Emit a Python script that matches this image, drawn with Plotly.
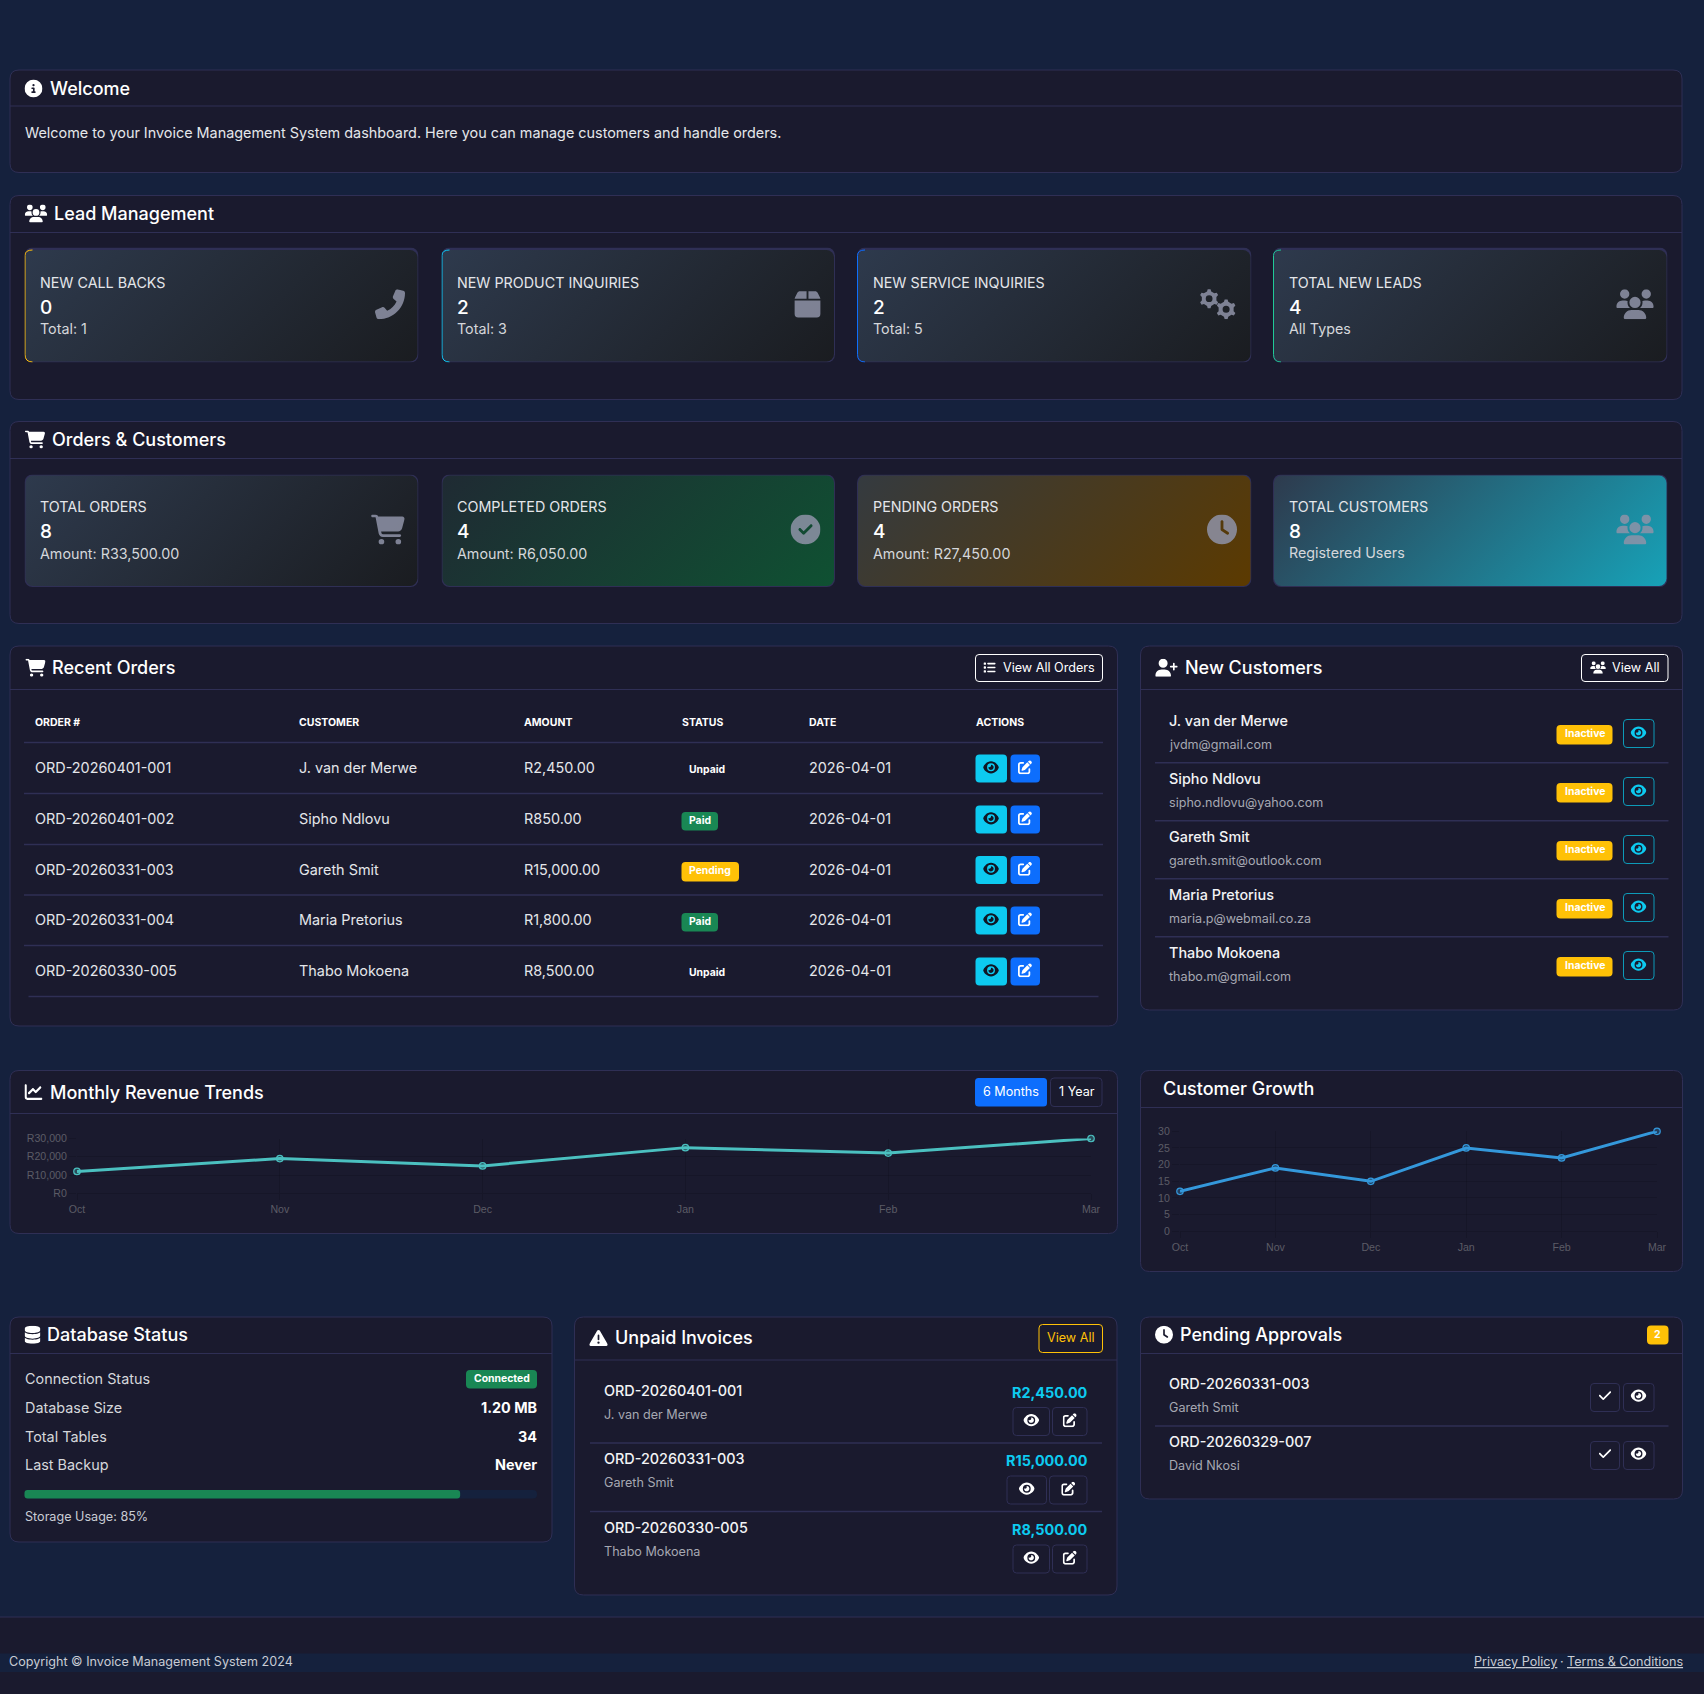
"""Invoice Management System dashboard drawn as a single plotly figure."""
import base64
import math

import plotly.graph_objects as go

W = 1704
H = 1694

# ---- data ----
MONTHS = ['Oct', 'Nov', 'Dec', 'Jan', 'Feb', 'Mar']
REVENUE = [12000, 19000, 15000, 25000, 22000, 30000]
REVENUE_TICKS = [0, 10000, 20000, 30000]
REVENUE_TICK_LABELS = ['R0', 'R10,000', 'R20,000', 'R30,000']
CUSTOMER_GROWTH = [12, 19, 15, 25, 22, 30]
CUSTOMER_TICKS = [0, 5, 10, 15, 20, 25, 30]

LEAD_TITLES = ['NEW CALL BACKS', 'NEW PRODUCT INQUIRIES', 'NEW SERVICE INQUIRIES', 'TOTAL NEW LEADS']
LEAD_VALUES = ['0', '2', '2', '4']
LEAD_NOTES = ['Total: 1', 'Total: 3', 'Total: 5', 'All Types']

ORDER_TITLES = ['TOTAL ORDERS', 'COMPLETED ORDERS', 'PENDING ORDERS', 'TOTAL CUSTOMERS']
ORDER_VALUES = ['8', '4', '4', '8']
ORDER_NOTES = ['Amount: R33,500.00', 'Amount: R6,050.00', 'Amount: R27,450.00', 'Registered Users']

TABLE_HEADERS = ['ORDER #', 'CUSTOMER', 'AMOUNT', 'STATUS', 'DATE', 'ACTIONS']
ORDER_IDS = ['ORD-20260401-001', 'ORD-20260401-002', 'ORD-20260331-003', 'ORD-20260331-004', 'ORD-20260330-005']
ORDER_CUSTOMERS = ['J. van der Merwe', 'Sipho Ndlovu', 'Gareth Smit', 'Maria Pretorius', 'Thabo Mokoena']
ORDER_AMOUNTS = ['R2,450.00', 'R850.00', 'R15,000.00', 'R1,800.00', 'R8,500.00']
ORDER_STATUS = ['Unpaid', 'Paid', 'Pending', 'Paid', 'Unpaid']
ORDER_DATES = ['2026-04-01'] * 5

NEW_NAMES = ['J. van der Merwe', 'Sipho Ndlovu', 'Gareth Smit', 'Maria Pretorius', 'Thabo Mokoena']
NEW_EMAILS = ['jvdm@gmail.com', 'sipho.ndlovu@yahoo.com', 'gareth.smit@outlook.com',
              'maria.p@webmail.co.za', 'thabo.m@gmail.com']

DB_LABELS = ['Connection Status', 'Database Size', 'Total Tables', 'Last Backup']
DB_VALUES = ['Connected', '1.20 MB', '34', 'Never']
STORAGE_USED = 85

UNPAID_IDS = ['ORD-20260401-001', 'ORD-20260331-003', 'ORD-20260330-005']
UNPAID_NAMES = ['J. van der Merwe', 'Gareth Smit', 'Thabo Mokoena']
UNPAID_AMOUNTS = ['R2,450.00', 'R15,000.00', 'R8,500.00']

PENDING_IDS = ['ORD-20260331-003', 'ORD-20260329-007']
PENDING_NAMES = ['Gareth Smit', 'David Nkosi']

# ---- colours ----
PAGE = '#15213d'
CARD = '#1a1a2e'
EDGE = '#2f2f55'
MUTED = '#a6a8b2'
SOFT = '#e4e6ea'
GREEN = '#198754'
AMBER = '#ffc107'
CYAN = '#0dcaf0'
BLUE = '#0d6efd'
FONT = 'Inter'
BODY = 14.4
SMALL = 12.6

# ---- icon outlines (font-awesome style glyphs) ----
ICON_INFO = (512, 512, 'M256 512A256 256 0 1 0 256 0a256 256 0 1 0 0 512zM216 336h24V272H216c-13.3 0-24-10.7-24-24s10.7-24 24-24h48c13.3 0 24 10.7 24 24v88h8c13.3 0 24 10.7 24 24s-10.7 24-24 24H216c-13.3 0-24-10.7-24-24s10.7-24 24-24zm40-208a32 32 0 1 1 0 64 32 32 0 1 1 0-64z')
ICON_USERS = (640, 512, 'M144 0a80 80 0 1 1 0 160A80 80 0 1 1 144 0zM512 0a80 80 0 1 1 0 160A80 80 0 1 1 512 0zM0 298.7C0 239.8 47.8 192 106.7 192h42.7c15.9 0 31 3.5 44.6 9.7c-1.3 7.2-1.9 14.7-1.9 22.3c0 38.2 16.8 72.5 43.3 96c-.2 0-.4 0-.7 0H21.3C9.6 320 0 310.4 0 298.7zM405.3 320c-.2 0-.4 0-.7 0c26.6-23.5 43.3-57.8 43.3-96c0-7.6-.7-15-1.9-22.3c13.6-6.3 28.7-9.7 44.6-9.7h42.7C592.2 192 640 239.8 640 298.7c0 11.8-9.6 21.3-21.3 21.3H405.3zM224 224a96 96 0 1 1 192 0 96 96 0 1 1 -192 0zM128 485.3C128 411.7 187.7 352 261.3 352H378.7C452.3 352 512 411.7 512 485.3c0 14.7-11.9 26.7-26.7 26.7H154.7c-14.7 0-26.7-11.9-26.7-26.7z')
ICON_PHONE = (512, 512, 'M347.1 24.6c7.7-18.6 28-28.5 47.4-23.2l88 24C499.9 30.2 512 46 512 64c0 247.4-200.6 448-448 448c-18 0-33.8-12.1-38.6-29.5l-24-88c-5.3-19.4 4.6-39.7 23.2-47.4l96-40c16.3-6.8 35.2-2.1 46.3 11.6L207.3 368c70.4-33.3 127.4-90.3 160.7-160.7L318.7 167c-13.7-11.2-18.4-30-11.6-46.3l40-96z')
ICON_BOX = (448, 512, 'M50.7 58.5L0 160H208V32H93.7C75.5 32 58.9 42.3 50.7 58.5zM240 160H448L397.3 58.5C389.1 42.3 372.5 32 354.3 32H240V160zm208 32H0V416c0 35.3 28.7 64 64 64H384c35.3 0 64-28.7 64-64V192z')
ICON_CART = (576, 512, 'M0 24C0 10.7 10.7 0 24 0H69.5c22 0 41.5 12.8 50.6 32h411c26.3 0 45.5 25 38.6 50.4l-41 152.3c-8.5 31.4-37 53.3-69.5 53.3H170.7l5.4 28.5c2.2 11.3 12.1 19.5 23.6 19.5H488c13.3 0 24 10.7 24 24s-10.7 24-24 24H199.7c-34.6 0-64.3-24.6-70.7-58.5L77.4 54.5c-.7-3.8-4-6.5-7.9-6.5H24C10.7 48 0 37.3 0 24zM128 464a48 48 0 1 1 96 0 48 48 0 1 1 -96 0zm336-48a48 48 0 1 1 0 96 48 48 0 1 1 0-96z')
ICON_CHECK_CIRCLE = (512, 512, 'M256 512A256 256 0 1 0 256 0a256 256 0 1 0 0 512zM369 209L241 337c-9.4 9.4-24.6 9.4-33.9 0l-64-64c-9.4-9.4-9.4-24.6 0-33.9s24.6-9.4 33.9 0l47 47L335 175c9.4-9.4 24.6-9.4 33.9 0s9.4 24.6 0 33.9z')
ICON_CLOCK = (512, 512, 'M256 0a256 256 0 1 1 0 512A256 256 0 1 1 256 0zM232 120V256c0 8 4 15.5 10.7 20l96 64c11 7.4 25.9 4.4 33.3-6.7s4.4-25.9-6.7-33.3L280 243.2V120c0-13.3-10.7-24-24-24s-24 10.7-24 24z')
ICON_LIST = (512, 512, 'M40 48C26.7 48 16 58.7 16 72v48c0 13.3 10.7 24 24 24H88c13.3 0 24-10.7 24-24V72c0-13.3-10.7-24-24-24H40zM192 64c-17.7 0-32 14.3-32 32s14.3 32 32 32H480c17.7 0 32-14.3 32-32s-14.3-32-32-32H192zm0 160c-17.7 0-32 14.3-32 32s14.3 32 32 32H480c17.7 0 32-14.3 32-32s-14.3-32-32-32H192zm0 160c-17.7 0-32 14.3-32 32s14.3 32 32 32H480c17.7 0 32-14.3 32-32s-14.3-32-32-32H192zM16 232v48c0 13.3 10.7 24 24 24H88c13.3 0 24-10.7 24-24V232c0-13.3-10.7-24-24-24H40c-13.3 0-24 10.7-24 24zM40 368c-13.3 0-24 10.7-24 24v48c0 13.3 10.7 24 24 24H88c13.3 0 24-10.7 24-24V392c0-13.3-10.7-24-24-24H40z')
ICON_USER_PLUS = (640, 512, 'M96 128a128 128 0 1 1 256 0A128 128 0 1 1 96 128zM0 482.3C0 383.8 79.8 304 178.3 304h91.4C368.2 304 448 383.8 448 482.3c0 16.4-13.3 29.7-29.7 29.7H29.7C13.3 512 0 498.7 0 482.3zM504 312V248H440c-13.3 0-24-10.7-24-24s10.7-24 24-24h64V136c0-13.3 10.7-24 24-24s24 10.7 24 24v64h64c13.3 0 24 10.7 24 24s-10.7 24-24 24H552v64c0 13.3-10.7 24-24 24s-24-10.7-24-24z')
ICON_EYE = (576, 512, 'M288 32c-80.8 0-145.5 36.8-192.6 80.6C48.6 156 17.3 208 2.5 243.7c-3.3 7.9-3.3 16.7 0 24.6C17.3 304 48.6 356 95.4 399.4C142.5 443.2 207.2 480 288 480s145.5-36.8 192.6-80.6c46.8-43.5 78.1-95.4 93-131.1c3.3-7.9 3.3-16.7 0-24.6c-14.9-35.7-46.2-87.7-93-131.1C433.5 68.8 368.8 32 288 32zM144 256a144 144 0 1 1 288 0 144 144 0 1 1 -288 0zm144-64c0 35.3-28.7 64-64 64c-7.1 0-13.9-1.2-20.3-3.3c-5.5-1.8-11.9 1.6-11.7 7.4c.3 6.9 1.3 13.8 3.2 20.7c13.7 51.2 66.4 81.6 117.6 67.9s81.6-66.4 67.9-117.6c-11.1-41.5-47.8-69.4-88.6-71.1c-5.8-.2-9.2 6.1-7.4 11.7c2.1 6.4 3.3 13.2 3.3 20.3z')
ICON_EDIT = (512, 512, 'M471.6 21.7c-21.9-21.9-57.3-21.9-79.2 0L362.3 51.7l97.9 97.9 30.1-30.1c21.9-21.9 21.9-57.3 0-79.2L471.6 21.7zm-299.2 220c-6.1 6.1-10.8 13.6-13.5 21.9l-29.6 88.8c-2.9 8.6-.6 18.1 5.8 24.6s15.9 8.7 24.6 5.8l88.8-29.6c8.2-2.7 15.7-7.4 21.9-13.5L437.7 172.3 339.7 74.3 172.4 241.7zM96 64C43 64 0 107 0 160V416c0 53 43 96 96 96H352c53 0 96-43 96-96V320c0-17.7-14.3-32-32-32s-32 14.3-32 32v96c0 17.7-14.3 32-32 32H96c-17.7 0-32-14.3-32-32V160c0-17.7 14.3-32 32-32h96c17.7 0 32-14.3 32-32s-14.3-32-32-32H96z')
ICON_CHART = (512, 512, 'M64 64c0-17.7-14.3-32-32-32S0 46.3 0 64V400c0 44.2 35.8 80 80 80H480c17.7 0 32-14.3 32-32s-14.3-32-32-32H80c-8.8 0-16-7.2-16-16V64zm406.6 86.6c12.5-12.5 12.5-32.8 0-45.3s-32.8-12.5-45.3 0L320 210.7l-57.4-57.4c-12.5-12.5-32.8-12.5-45.3 0l-112 112c-12.5 12.5-12.5 32.8 0 45.3s32.8 12.5 45.3 0L240 221.3l57.4 57.4c12.5 12.5 32.8 12.5 45.3 0l128-128z')
ICON_DATABASE = (448, 512, 'M448 80v48c0 44.2-100.3 80-224 80S0 172.2 0 128V80C0 35.8 100.3 0 224 0S448 35.8 448 80zM393.2 214.7c20.8-7.4 39.9-16.9 54.8-28.6V288c0 44.2-100.3 80-224 80S0 332.2 0 288V186.1c14.9 11.8 34 21.2 54.8 28.6C99.7 230.7 159.5 240 224 240s124.3-9.3 169.2-25.3zM0 346.1c14.9 11.8 34 21.2 54.8 28.6C99.7 390.7 159.5 400 224 400s124.3-9.3 169.2-25.3c20.8-7.4 39.9-16.9 54.8-28.6V432c0 44.2-100.3 80-224 80S0 476.2 0 432V346.1z')
ICON_WARNING = (512, 512, 'M256 32c14.2 0 27.3 7.5 34.5 19.8l216 368c7.3 12.4 7.3 27.7 .2 40.1S486.3 480 472 480H40c-14.3 0-27.6-7.7-34.7-20.1s-7-27.8 .2-40.1l216-368C228.7 39.5 241.8 32 256 32zm0 128c-13.3 0-24 10.7-24 24V296c0 13.3 10.7 24 24 24s24-10.7 24-24V184c0-13.3-10.7-24-24-24zm32 224a32 32 0 1 0 -64 0 32 32 0 1 0 64 0z')
ICON_CHECK = (448, 512, 'M438.6 105.4c12.5 12.5 12.5 32.8 0 45.3l-256 256c-12.5 12.5-32.8 12.5-45.3 0l-128-128c-12.5-12.5-12.5-32.8 0-45.3s32.8-12.5 45.3 0L160 338.7 393.4 105.4c12.5-12.5 32.8-12.5 45.3 0z')


def gear_outline(cx, cy, outer, inner, hole, teeth=6):
    """Outline of one gear wheel with a round hole."""
    pts = []
    step = 2 * math.pi / teeth
    for i in range(teeth):
        a = i * step + math.pi / 6
        for da, r in ((-0.27, inner), (-0.14, outer), (0.14, outer), (0.27, inner)):
            pts.append((cx + r * math.cos(a + da * step), cy + r * math.sin(a + da * step)))
    d = 'M' + 'L'.join(f'{x:.1f} {y:.1f}' for x, y in pts) + 'Z'
    d += f'M{cx - hole} {cy}a{hole} {hole} 0 1 0 {2 * hole} 0a{hole} {hole} 0 1 0 {-2 * hole} 0Z'
    return d


ICON_COGS = (640, 512, gear_outline(160, 160, 165, 128, 58) + gear_outline(450, 341, 170, 132, 60))

shapes = []
annotations = []
images = []


def svg_uri(svg):
    return 'data:image/svg+xml;base64,' + base64.b64encode(svg.encode()).decode()


def rounded(x0, y0, x1, y1, r):
    return (f'M{x0 + r} {y0}L{x1 - r} {y0}Q{x1} {y0} {x1} {y0 + r}L{x1} {y1 - r}Q{x1} {y1} {x1 - r} {y1}'
            f'L{x0 + r} {y1}Q{x0} {y1} {x0} {y1 - r}L{x0} {y0 + r}Q{x0} {y0} {x0 + r} {y0}Z')


def box(x0, y0, x1, y1, fill=CARD, edge=None, r=4.0, width=1.0):
    shapes.append(dict(type='path', path=rounded(x0, y0, x1, y1, r), xref='x', yref='y', fillcolor=fill,
                       line=dict(color=edge or 'rgba(0,0,0,0)', width=width if edge else 0), layer='below'))


def rule(x0, x1, y, color=EDGE, width=1.0):
    shapes.append(dict(type='line', x0=x0, x1=x1, y0=y, y1=y, xref='x', yref='y',
                       line=dict(color=color, width=width), layer='below'))


def label(x, y, text, size=BODY, color=SOFT, anchor='left', weight=400, family=FONT, under=False):
    font = dict(family=family, size=size, color=color, weight=weight)
    if under:
        font['lineposition'] = 'under'
    annotations.append(dict(x=x, y=y, xref='x', yref='y', text=text, showarrow=False, xanchor=anchor,
                            yanchor='middle', font=font, borderpad=0, borderwidth=0))


def icon(glyph, cx, cy, width, color='#ffffff', opacity=1.0):
    vw, vh, d = glyph
    svg = (f'<svg xmlns="http://www.w3.org/2000/svg" viewBox="0 0 {vw} {vh}" width="{vw}" height="{vh}">'
           f'<path fill="{color}" fill-rule="evenodd" d="{d}"/></svg>')
    height = width * vh / vw
    images.append(dict(source=svg_uri(svg), xref='x', yref='y', x=cx - width / 2, y=cy - height / 2,
                       sizex=width, sizey=height, sizing='stretch', xanchor='left', yanchor='top',
                       layer='above', opacity=opacity))


def panel(x0, y0, x1, y1, header_y, title, glyph=None, icon_cx=0, icon_w=18, title_x=0, title_y=None, icon_y=None):
    box(x0, y0, x1, y1, CARD, EDGE, r=9)
    rule(x0, x1, header_y)
    title_y = title_y if title_y is not None else (y0 + header_y) / 2
    label(title_x, title_y, title, size=18, color='#ffffff', weight=500)
    if glyph:
        icon(glyph, icon_cx, icon_y if icon_y is not None else title_y, icon_w)


def stat_card(x0, y0, x1, y1, start, stop, left, strip=False):
    """Stat tile with the diagonal css-style gradient, coloured left edge and optional top strip."""
    w, h = x1 - x0, y1 - y0
    q = (w + h) / 4
    top = 2.5 if strip else 1
    left_edge = ''
    if left:
        left_edge = f'<path d="M8 {top} Q0.5 {top} 0.5 8 L0.5 {h - 8} Q0.5 {h - 0.5} 8 {h - 0.5}" fill="none" stroke="{left}" stroke-width="1"/>'
    svg = (f'<svg xmlns="http://www.w3.org/2000/svg" viewBox="0 0 {w} {h}" width="{w}" height="{h}">'
           f'<defs><linearGradient id="g" gradientUnits="userSpaceOnUse" x1="{w / 2 - q}" y1="{h / 2 - q}" '
           f'x2="{w / 2 + q}" y2="{h / 2 + q}"><stop offset="0" stop-color="{start}"/>'
           f'<stop offset="1" stop-color="{stop}"/></linearGradient></defs>'
           f'<rect width="{w}" height="{h}" rx="8" fill="{EDGE}"/>'
           f'<rect x="1" y="{top}" width="{w - 2}" height="{h - top - 1}" rx="7.5" fill="url(#g)"/>'
           f'{left_edge}</svg>')
    images.append(dict(source=svg_uri(svg), xref='x', yref='y', x=x0, y=y0, sizex=w, sizey=h, sizing='stretch',
                       xanchor='left', yanchor='top', layer='above'))


def badge(x0, y0, x1, y1, text, fill, size=10.4):
    box(x0, y0, x1, y1, fill, r=4)
    label((x0 + x1) / 2, (y0 + y1) / 2 - 0.8, text, size=size, color='#ffffff', anchor='center', weight=700)


# ---- page ----
box(0, 1617, W, H, CARD, r=0)
rule(0, W, 1617)
box(0, 1653.5, W, 1672, PAGE, r=0)
label(9, 1661.5, 'Copyright © Invoice Management System 2024', size=SMALL, color='#c9ccd4')
label(1683, 1661.5, 'Terms &amp; Conditions', size=SMALL, color='#c9ccd4', anchor='right', under=True)
label(1556.5, 1661.5, 'Privacy Policy', size=SMALL, color='#c9ccd4', anchor='right', under=True)
label(1561.5, 1661.5, '·', size=SMALL, color='#c9ccd4', anchor='center')

# ---- welcome ----
panel(10, 70, 1682, 172.5, 106, 'Welcome', ICON_INFO, 33.5, 18, 50, title_y=88.5)
label(24.5, 133, 'Welcome to your Invoice Management System dashboard. Here you can manage customers and handle orders.')

# ---- stat rows ----
STAT_X = [(24.5, 418.5), (441.5, 835), (857, 1251.5), (1273, 1667.5)]
ICON_TINT = '#8f93a8'

panel(10, 195.5, 1682, 399.5, 232.5, 'Lead Management', ICON_USERS, 36, 22.5, 54, title_y=213, icon_y=213.5)
lead_left = [AMBER, CYAN, BLUE, '#20c997']
lead_icons = [(ICON_PHONE, 390, 30), (ICON_BOX, 807.5, 26.25), (ICON_COGS, 1218.5, 37.5), (ICON_USERS, 1635, 37.5)]
for i, (x0, x1) in enumerate(STAT_X):
    stat_card(x0, 247.5, x1, 362.5, '#2e3a4d', '#1a1c20', lead_left[i], strip=True)
    label(x0 + 15.5, 282, LEAD_TITLES[i], size=14.3)
    label(x0 + 15.5, 307.3, LEAD_VALUES[i], size=19, color='#ffffff', weight=500)
    label(x0 + 15.5, 328.2, LEAD_NOTES[i], size=14.3, color='#d5d7db')
    glyph, cx, w = lead_icons[i]
    icon(glyph, cx, 304.3, w, ICON_TINT, 0.85)

panel(10, 421.5, 1682, 623.5, 458.5, 'Orders &amp; Customers', ICON_CART, 35, 20.25, 52, title_y=439, icon_y=439.5)
order_start = ['#2e3a4d', '#1f2a33', '#343a40', '#2e3a4d']
order_stop = ['#1a1c20', '#0f5132', '#5c3a00', '#17a2b8']
order_icons = [(ICON_CART, 388, 33.75), (ICON_CHECK_CIRCLE, 805.5, 30), (ICON_CLOCK, 1222, 30), (ICON_USERS, 1635, 37.5)]
for i, (x0, x1) in enumerate(STAT_X):
    stat_card(x0, 474.5, x1, 587, order_start[i], order_stop[i], None)
    label(x0 + 15.5, 506, ORDER_TITLES[i], size=14.3)
    label(x0 + 15.5, 531.3, ORDER_VALUES[i], size=19, color='#ffffff', weight=500)
    label(x0 + 15.5, 553, ORDER_NOTES[i], size=14.3, color='#d5d7db')
    glyph, cx, w = order_icons[i]
    icon(glyph, cx, 529.5, w, ICON_TINT, 0.85)

# ---- recent orders ----
panel(10, 646, 1117.5, 1026, 689.5, 'Recent Orders', ICON_CART, 35.5, 20.25, 52, title_y=667.8)
box(975.5, 654.5, 1102.5, 681.5, CARD, '#ffffff', r=3.5)
icon(ICON_LIST, 989.5, 667.5, 12.5)
label(1002.5, 667.3, 'View All Orders', size=SMALL, color='#ffffff')

COL_X = [35, 298.5, 524, 681.5, 808.5, 975.5]
for x, text in zip(COL_X, TABLE_HEADERS):
    label(x, 722.3, text, size=10.5, color='#ffffff', weight=700)

ROW_Y = [767.8, 818.8, 869.3, 919.8, 970.8]
ROW_LINES = [742.5, 793.5, 844.5, 895, 945.5]
for y in ROW_LINES:
    rule(24, 1103, y, width=1.5)
rule(28.5, 1098.5, 996.5, width=1.5)
for i, y in enumerate(ROW_Y):
    label(COL_X[0], y, ORDER_IDS[i])
    label(COL_X[1], y, ORDER_CUSTOMERS[i])
    label(COL_X[2], y, ORDER_AMOUNTS[i])
    label(COL_X[4], y, ORDER_DATES[i])
    status = ORDER_STATUS[i]
    if status == 'Paid':
        badge(681.5, y - 6.8, 718, y + 11.7, status, GREEN)
    elif status == 'Pending':
        badge(681.5, y - 7.3, 739, y + 12.2, status, AMBER)
    else:
        label(706.5, y + 1.5, status, size=10.4, color='#ffffff', anchor='center', weight=700)
    box(975.5, y - 13.3, 1007, y + 14.7, CYAN, r=4)
    box(1010.5, y - 13.3, 1040, y + 14.7, BLUE, r=4)
    icon(ICON_EYE, 991, y - 0.5, 15.75, '#101624')
    icon(ICON_EDIT, 1025, y - 0.5, 14, '#ffffff')

# ---- new customers ----
panel(1140.5, 646, 1682.5, 1010, 689.5, 'New Customers', ICON_USER_PLUS, 1166.5, 22.5, 1184.5, title_y=667.8)
box(1581.5, 654.5, 1668, 681.5, CARD, '#ffffff', r=3.5)
icon(ICON_USERS, 1598, 667.5, 15.75)
label(1612.3, 667.3, 'View All', size=SMALL, color='#ffffff')
for i, name in enumerate(NEW_NAMES):
    step = 58 * i
    label(1169, 720 + step, name, color='#f2f3f5', weight=500)
    label(1169, 744.2 + step, NEW_EMAILS[i], size=SMALL, color=MUTED)
    badge(1556.5, 725 + step, 1612.5, 744.5 + step, 'Inactive', AMBER)
    box(1623.5, 719.5 + step, 1654, 747.5 + step, CARD, '#0d9ab8', r=3.5)
    icon(ICON_EYE, 1638.5, 732.7 + step, 15.75, CYAN)
    if i < 4:
        rule(1155, 1668.5, 762.7 + step, width=1.5)

# ---- chart cards ----
panel(10, 1070.5, 1117.5, 1233.5, 1113.5, 'Monthly Revenue Trends', ICON_CHART, 33.5, 18, 50, title_y=1092, icon_y=1092)
box(975, 1078, 1047, 1106.5, BLUE, r=3.5)
label(1011, 1091.2, '6 Months', size=SMALL, color='#ffffff', anchor='center')
box(1050.5, 1078, 1102, 1106.5, CARD, EDGE, r=3.5)
label(1076.5, 1091.2, '1 Year', size=SMALL, color='#ffffff', anchor='center')

panel(1140.5, 1070.5, 1682.5, 1271.5, 1107.5, 'Customer Growth', None, 0, 0, 1162.5, title_y=1088.5)

# ---- database ----
panel(10, 1317, 552, 1542, 1353.5, 'Database Status', ICON_DATABASE, 32.5, 15.75, 47, title_y=1334, icon_y=1334.7)
DB_Y = [1378.7, 1407.7, 1436.2, 1464.7]
for i, y in enumerate(DB_Y):
    label(24.5, y, DB_LABELS[i], color='#d5d7db')
    if i == 0:
        badge(466, 1370, 537, 1388.5, DB_VALUES[i], GREEN)
    else:
        label(537, y, DB_VALUES[i], color='#ffffff', anchor='right', weight=700)
box(24.5, 1490, 537, 1498.5, PAGE, r=4)
box(24.5, 1490, 24.5 + (537 - 24.5) * STORAGE_USED / 100, 1498.5, GREEN, r=3)
label(24.5, 1516.5, f'Storage Usage: {STORAGE_USED}%', size=SMALL, color='#c9ccd4')

# ---- unpaid invoices ----
panel(574.5, 1317, 1117, 1595, 1360, 'Unpaid Invoices', ICON_WARNING, 598.5, 18.5, 614.5, title_y=1337.5, icon_y=1338)
box(1039, 1324.5, 1102.5, 1352.5, CARD, AMBER, r=3.5)
label(1071, 1337.3, 'View All', size=SMALL, color=AMBER, anchor='center')
UNPAID_Y = [1390.2, 1458.7, 1527.7]
EYE_LEFT = [1013, 1007, 1013]
EDIT_LEFT = [1052.5, 1049.5, 1052.5]
for i, y in enumerate(UNPAID_Y):
    label(603.5, y, UNPAID_IDS[i], color='#f2f3f5', weight=500)
    label(603.5, y + 24, UNPAID_NAMES[i], size=SMALL, color=MUTED)
    label(1088, y + 2, UNPAID_AMOUNTS[i], size=14.4, color=CYAN, anchor='right', weight=700)
    box(EYE_LEFT[i], y + 17.3, EDIT_LEFT[i] - 3, y + 45.3, CARD, EDGE, r=3.5)
    box(EDIT_LEFT[i], y + 17.3, 1087, y + 45.3, CARD, EDGE, r=3.5)
    icon(ICON_EYE, (EYE_LEFT[i] + EDIT_LEFT[i] - 3) / 2, y + 30, 15.75)
    icon(ICON_EDIT, (EDIT_LEFT[i] + 1087) / 2, y + 30, 14)
    if i < 2:
        rule(590, 1102, y + 52.8, width=1.5)

# ---- pending approvals ----
panel(1140.5, 1317, 1682.5, 1499, 1353.5, 'Pending Approvals', ICON_CLOCK, 1164, 18, 1180, title_y=1334, icon_y=1334.7)
badge(1647, 1325.5, 1668.5, 1344.5, str(len(PENDING_IDS)), AMBER)
for i, order in enumerate(PENDING_IDS):
    step = 58 * i
    label(1169, 1383 + step, order, color='#f2f3f5', weight=500)
    label(1169, 1407.2 + step, PENDING_NAMES[i], size=SMALL, color=MUTED)
    box(1590.5, 1383.5 + step, 1619.5, 1411.5 + step, CARD, EDGE, r=3.5)
    box(1623.5, 1383.5 + step, 1654, 1411.5 + step, CARD, EDGE, r=3.5)
    icon(ICON_CHECK, 1605, 1395.7 + step, 12.25)
    icon(ICON_EYE, 1638.5, 1395.7 + step, 15.75)
rule(1155, 1668.5, 1426, width=1.5)

# ---- figure ----
fig = go.Figure()
fig.add_trace(go.Scatter(x=MONTHS, y=REVENUE, xaxis='x2', yaxis='y2', mode='lines+markers', cliponaxis=False,
                         line=dict(color='rgb(75,192,192)', width=3),
                         marker=dict(size=6.5, color='rgba(75,192,192,0.3)',
                                     line=dict(color='rgb(75,192,192)', width=1.2))))
fig.add_trace(go.Scatter(x=MONTHS, y=CUSTOMER_GROWTH, xaxis='x3', yaxis='y3', mode='lines+markers', cliponaxis=False,
                         line=dict(color='#3498db', width=3),
                         marker=dict(size=6.5, color='rgba(52,152,219,0.3)',
                                     line=dict(color='#3498db', width=1.2))))

TICK_FONT = dict(family='Liberation Sans', size=10.6, color='#5c5c66')
GRID = 'rgba(0,0,0,0.12)'


def chart_axes(left, right, top, bottom, x_anchor, y_anchor):
    xax = dict(domain=[left / W, right / W], anchor=y_anchor, range=[0, 5], type='category', categoryorder='array',
               categoryarray=MONTHS, showgrid=True, gridcolor=GRID, ticks='outside', ticklen=6, tickcolor=GRID,
               tickfont=TICK_FONT, showline=False, zeroline=False, fixedrange=True, automargin=False)
    yax = dict(domain=[1 - bottom / H, 1 - top / H], anchor=x_anchor, showgrid=True, gridcolor=GRID, ticks='outside',
               ticklen=7, tickcolor=GRID, tickfont=TICK_FONT, showline=False, zeroline=True, zerolinecolor=GRID,
               fixedrange=True, automargin=False)
    return xax, yax


x2, y2 = chart_axes(77, 1091, 1138.5, 1193.3, 'x2', 'y2')
y2.update(range=[0, 30000], tickvals=REVENUE_TICKS, ticktext=REVENUE_TICK_LABELS)
x3, y3 = chart_axes(1180, 1657, 1131.3, 1231.3, 'x3', 'y3')
y3.update(range=[0, 30], tickvals=CUSTOMER_TICKS)

fig.update_layout(
    template='none',
    width=W, height=H, margin=dict(l=0, r=0, t=0, b=0, pad=0, autoexpand=False), autosize=False, showlegend=False,
    paper_bgcolor=PAGE, plot_bgcolor='rgba(0,0,0,0)',
    xaxis=dict(range=[0, W], visible=False, fixedrange=True, domain=[0, 1], automargin=False),
    yaxis=dict(range=[H, 0], visible=False, fixedrange=True, domain=[0, 1], automargin=False),
    xaxis2=x2, yaxis2=y2, xaxis3=x3, yaxis3=y3,
    shapes=shapes, annotations=annotations, images=images,
)

fig.write_html("out.html", config=dict(displayModeBar=False),
               post_script="document.body.style.margin='0';document.body.style.background='#15213d';"
                           "document.documentElement.style.overflow='hidden';")
